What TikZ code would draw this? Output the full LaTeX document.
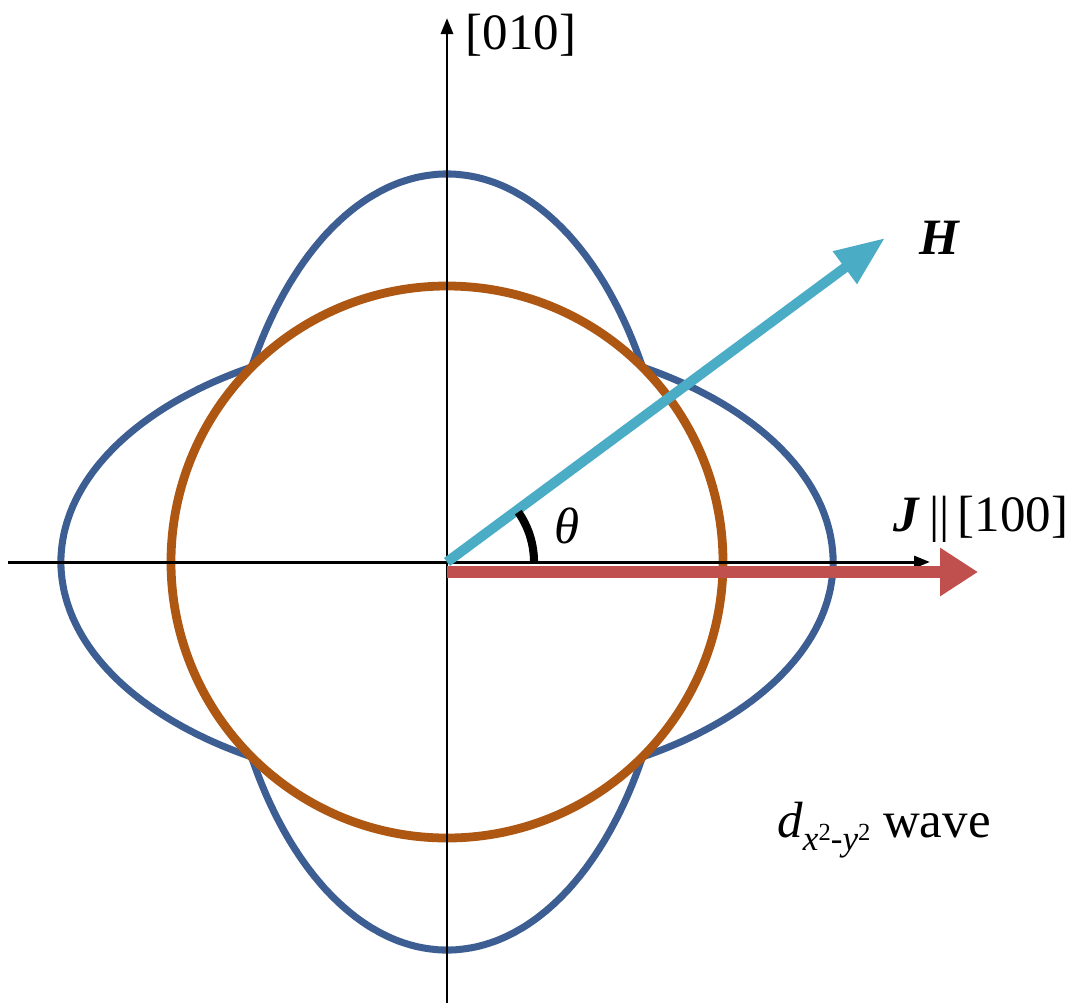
\documentclass[tikz,border=0pt]{standalone}
\usepackage{fontspec}
\setmainfont{Liberation Serif}
\usepackage{xcolor}
\definecolor{GapBlue}{HTML}{3D5E93}
\definecolor{GapBrown}{HTML}{AD5713}
\definecolor{FieldCyan}{HTML}{4BACC6}
\definecolor{CurrentRed}{HTML}{C0504D}
\usepackage{tikz}
\usetikzlibrary{arrows.meta}

\begin{document}
\begin{tikzpicture}[
  axis/.style={line width=0.85pt, black, -{Triangle[length=0.16cm, width=0.12cm]}},
  dwave/.style={line width=2pt, color=GapBlue},
  swave/.style={line width=2.5pt, color=GapBrown},
  field/.style={line width=0.1cm, color=FieldCyan, -{Triangle[length=0.5cm, width=0.38cm]}},
  current/.style={line width=0.12cm, color=CurrentRed, -{Triangle[length=0.38cm, width=0.46cm]}},
  lbl/.style={font=\fontsize{14.5}{17}\selectfont, inner sep=1pt},
]
\useasboundingbox (-4.47,-4.45) rectangle (6.33,5.62);

% Points
\coordinate (O) at (0,0);
\coordinate (xstart) at (-4.39,0);
\coordinate (xend) at (4.83,0);
\coordinate (ystart) at (0,-4.41);
\coordinate (yend) at (0,5.44);
\coordinate (Jstart) at (0,-0.10);
\coordinate (Jtip) at (5.31,-0.10);
\coordinate (Htip) at (4.38,3.24);

% Gap functions (outer edge of two crossed ellipses)
\draw[dwave] plot[domain=0:360, samples=721]
  (\x:{max(1/sqrt((cos(\x)/3.86)^2+(sin(\x)/2.26)^2), 1/sqrt((cos(\x)/2.26)^2+(sin(\x)/3.88)^2))}) -- cycle;
\draw[swave] (O) circle (2.76);

% Axes
\draw[axis] (xstart) -- (xend);
\draw[axis] (ystart) -- (yend);

% Field and current
\draw[current] (Jstart) -- (Jtip);
\draw[field] (O) -- (Htip);

% Angle
\draw[line width=2.3pt, black] (0.87,0) arc[start angle=0, end angle=35, radius=0.87];

% Labels
\node[lbl] (ylbl) at (0.74,5.27) {[010]};
\node[lbl] (xlbl) at (5.34,0.43) {\textbf{\textit{J}}\,||\,[100]};
\node[lbl] (hlbl) at (4.93,3.24) {\textbf{\textit{H}}};
\node[lbl] (theta) at (1.20,0.36) {\textit{θ}};
\node[lbl] (wave) at (4.37,-2.68) {\textit{d}\raisebox{-0.55ex}{\fontsize{10}{10}\selectfont\textit{x}\raisebox{0.6ex}{\fontsize{7}{7}\selectfont 2}-\textit{y}\raisebox{0.6ex}{\fontsize{7}{7}\selectfont 2}} wave};

\end{tikzpicture}
\end{document}
